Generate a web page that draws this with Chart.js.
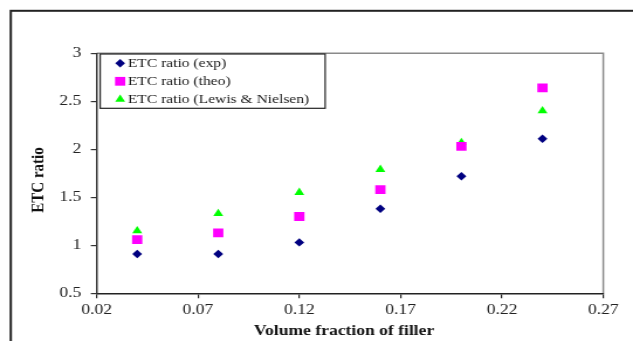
<!DOCTYPE html>
<html>
<head>
<meta charset="utf-8">
<title>ETC ratio vs volume fraction</title>
<script src="https://cdn.jsdelivr.net/npm/chart.js@4.4.0/dist/chart.umd.min.js"></script>
<style>
  html, body { margin: 0; padding: 0; background: #fff; overflow: hidden; }
  canvas { display: block; }
</style>
</head>
<body>
<!-- drawn 541 wide and stretched sideways to the page width -->
<canvas id="etcChart" width="541" height="341" style="width:633px;height:341px"></canvas>
<script>
// volume fraction of filler
const fractions = [0.04, 0.08, 0.12, 0.16, 0.20, 0.24];
// ETC ratio series
const ratioExp = [0.91, 0.91, 1.03, 1.38, 1.72, 2.11];
const ratioTheo = [1.06, 1.13, 1.30, 1.58, 2.03, 2.64];
const ratioLewis = [1.15, 1.33, 1.55, 1.79, 2.07, 2.40];
const seriesNames = ["ETC ratio (exp)", "ETC ratio (theo)", "ETC ratio (Lewis & Nielsen)"];
// axis ticks
const xTicks = [0.02, 0.07, 0.12, 0.17, 0.22, 0.27];
const yTicks = [0.5, 1, 1.5, 2, 2.5, 3];

const serif = "'Liberation Serif', 'Times New Roman', serif";

const toPoints = (ys) => ys.map((y, i) => ({ x: fractions[i], y: y }));

// white page, outer frame and the grey top/right edge of the plot
const framePlugin = {
  id: "frame",
  beforeDraw(chart) {
    const { ctx, chartArea: a } = chart;
    ctx.save();
    ctx.fillStyle = "#fff";
    ctx.fillRect(0, 0, chart.width, chart.height);
    ctx.strokeStyle = "#222";
    ctx.lineWidth = 2;
    ctx.strokeRect(9.2, 10.8, chart.width + 40, chart.height + 40);
    ctx.strokeStyle = "#8a8a8a";
    ctx.lineWidth = 1.5;
    ctx.beginPath();
    ctx.moveTo(a.left, a.top);
    ctx.lineTo(a.right, a.top);
    ctx.lineTo(a.right, a.bottom);
    ctx.stroke();
    ctx.restore();
  },
  afterDraw(chart) {
    const { ctx, chartArea: a } = chart;
    ctx.save();
    ctx.fillStyle = "#111";
    ctx.font = "bold 15px " + serif;
    ctx.textAlign = "center";
    ctx.textBaseline = "middle";
    // x title
    ctx.fillText("Volume fraction of filler", (a.left + a.right) / 2 - 5, 331);
    // y title
    ctx.translate(33, 180);
    ctx.rotate(-Math.PI / 2);
    ctx.fillText("ETC ratio", 0, 0);
    ctx.restore();
  }
};

// boxed legend in the top left corner of the plot
const legendBox = {
  id: "legendBox",
  afterDatasetsDraw(chart) {
    const { ctx, chartArea: a } = chart;
    const x0 = a.left + 3, y0 = a.top + 0.7, w = 192.3, h = 54.3;
    ctx.save();
    ctx.fillStyle = "#fff";
    ctx.fillRect(x0, y0, w, h);
    ctx.strokeStyle = "#222";
    ctx.lineWidth = 1.2;
    ctx.strokeRect(x0, y0, w, h);
    ctx.font = "13.3px " + serif;
    ctx.textBaseline = "middle";
    ctx.textAlign = "left";
    chart.data.datasets.forEach((ds, i) => {
      const cy = y0 + 9.3 + i * 18;
      ctx.fillStyle = ds.backgroundColor;
      Chart.helpers.drawPoint(ctx, {
        pointStyle: ds.pointStyle,
        radius: ds.pointRadius,
        rotation: 0,
        borderWidth: 0
      }, x0 + 17.1, cy);
      ctx.fillStyle = "#1a1a1a";
      ctx.fillText(ds.label, x0 + 23.6, cy + 0.5);
    });
    ctx.restore();
  }
};

new Chart(document.getElementById("etcChart"), {
  type: "scatter",
  data: {
    datasets: [
      {
        label: seriesNames[0],
        data: toPoints(ratioExp),
        pointStyle: "rectRot",
        pointRadius: 4.2,
        backgroundColor: "#000080",
        borderColor: "#000080",
        borderWidth: 0
      },
      {
        label: seriesNames[1],
        data: toPoints(ratioTheo),
        pointStyle: "rect",
        pointRadius: 6.2,
        backgroundColor: "#ff00ff",
        borderColor: "#ff00ff",
        borderWidth: 0
      },
      {
        label: seriesNames[2],
        data: toPoints(ratioLewis),
        pointStyle: "triangle",
        pointRadius: 4.9,
        backgroundColor: "#00ff00",
        borderColor: "#00ff00",
        borderWidth: 0
      }
    ]
  },
  options: {
    responsive: false,
    animation: false,
    devicePixelRatio: 1,
    layout: { padding: { left: 0, top: 53.3, right: 25.4, bottom: 0 } },
    plugins: {
      legend: { display: false },
      tooltip: { enabled: false }
    },
    scales: {
      x: {
        type: "linear",
        min: 0.02,
        max: 0.27,
        afterBuildTicks: (s) => { s.ticks = xTicks.map((v) => ({ value: v })); },
        afterFit: (s) => { s.height = 47.7; },
        border: { display: true, color: "#222", width: 1.5 },
        grid: { drawOnChartArea: false, drawTicks: true, tickLength: 5, color: "#222", lineWidth: 1.2 },
        ticks: {
          padding: 3,
          maxRotation: 0,
          color: "#222",
          font: { family: serif, size: 15 },
          callback: (v) => Number(v).toFixed(2)
        }
      },
      y: {
        type: "linear",
        min: 0.5,
        max: 3,
        afterBuildTicks: (s) => { s.ticks = yTicks.map((v) => ({ value: v })); },
        afterFit: (s) => { s.width = 82.6; },
        border: { display: true, color: "#333", width: 1.5 },
        grid: { drawOnChartArea: false, drawTicks: true, tickLength: 5, color: "#333", lineWidth: 1.2 },
        ticks: {
          padding: 8,
          color: "#222",
          font: { family: serif, size: 15 },
          callback: (v) => String(v)
        }
      }
    }
  },
  plugins: [framePlugin, legendBox]
});
</script>
</body>
</html>
